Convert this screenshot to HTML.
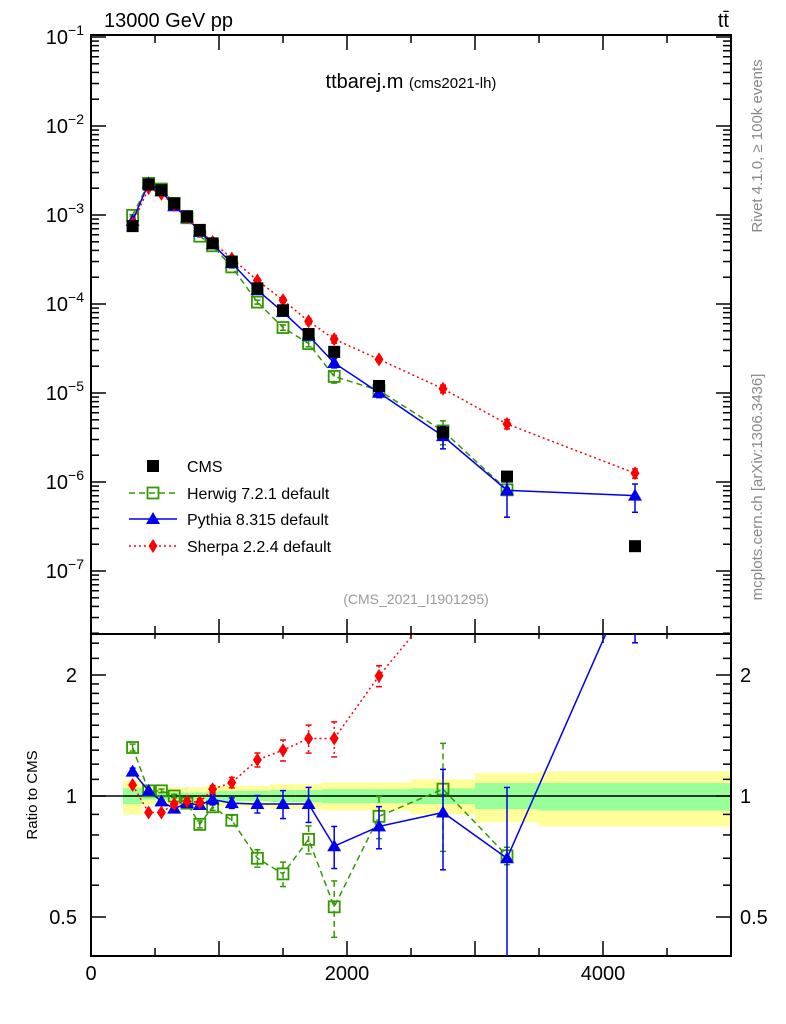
<!DOCTYPE html>
<html><head><meta charset="utf-8"><style>
html,body{margin:0;padding:0;background:#fff;overflow:hidden;width:786px;height:1024px;}
svg{display:block;font-family:"Liberation Sans",sans-serif;}
</style></head><body>
<svg id="c" width="786" height="1024" viewBox="0 0 786 1024" xmlns="http://www.w3.org/2000/svg"></svg>
<script>
const binEdges=[250,400,500,600,700,800,900,1000,1200,1400,1600,1800,2000,2500,3000,3500,5000];
const xCenters=[325,450,550,650,750,850,950,1100,1300,1500,1700,1900,2250,2750,3250,4250];
const cmsVals=[7.5e-4,2.2e-3,1.9e-3,1.35e-3,9.7e-4,6.8e-4,4.8e-4,3.0e-4,1.5e-4,8.5e-5,4.6e-5,2.9e-5,1.2e-5,3.6e-6,1.15e-6,1.9e-7];
const herwigRatio=[1.32,1.03,1.03,1.0,0.96,0.85,0.94,0.87,0.70,0.64,0.78,0.53,0.89,1.04,0.71];
const pythiaRatio=[1.15,1.03,0.97,0.93,0.96,0.95,0.98,0.96,0.955,0.955,0.955,0.75,0.84,0.91,0.70,3.7];
const sherpaRatio=[1.065,0.91,0.91,0.955,0.97,0.965,1.04,1.08,1.23,1.30,1.39,1.39,1.99,3.1,3.9,6.6];
const herwigErr=[0.02,0.01,0.01,0.01,0.01,0.02,0.02,0.03,0.05,0.07,0.08,0.16,0.12,0.30,0.05];
const pythiaErr=[0.02,0.01,0.01,0.01,0.01,0.02,0.03,0.03,0.05,0.08,0.10,0.12,0.12,0.28,0.5,0.35];
const sherpaErr=[0.01,0.01,0.01,0.01,0.01,0.02,0.02,0.03,0.04,0.06,0.08,0.10,0.06,0.1,0.12,0.12];
const yellowUp=[1.09,1.05,1.05,1.05,1.05,1.05,1.06,1.06,1.06,1.07,1.07,1.08,1.08,1.10,1.14,1.15];
const yellowDn=[0.90,0.95,0.95,0.95,0.95,0.95,0.94,0.94,0.94,0.93,0.93,0.92,0.92,0.90,0.86,0.84];
const greenUp=[1.045,1.02,1.02,1.02,1.02,1.02,1.025,1.03,1.03,1.035,1.035,1.04,1.04,1.045,1.077,1.077];
const greenDn=[0.955,0.98,0.98,0.98,0.98,0.98,0.975,0.97,0.97,0.965,0.965,0.96,0.96,0.955,0.928,0.92];
const legendLabels=["CMS","Herwig 7.2.1 default","Pythia 8.315 default","Sherpa 2.2.4 default"];

const L=91,R=731,T=35,M=634,B=956;
const X=v=>L+(v-0)*(R-L)/5000;
const Y=v=>215-(Math.log10(v)+3)*89;
const YR=v=>796-Math.log2(v)*121;
const svg=document.getElementById('c');
const NS="http://www.w3.org/2000/svg";
function mk(tag,attrs,parent){const e=document.createElementNS(NS,tag);for(const k in attrs)e.setAttribute(k,attrs[k]);(parent||svg).appendChild(e);return e;}
function txt(s,attrs,parent){const e=mk('text',attrs,parent);e.textContent=s;return e;}

const defs=mk('defs',{});
const c1=mk('clipPath',{id:'cm'},defs);mk('rect',{x:L,y:T,width:R-L,height:M-T},c1);
const c2=mk('clipPath',{id:'cr'},defs);mk('rect',{x:L,y:M,width:R-L,height:B-M},c2);

const bands=mk('g',{'clip-path':'url(#cr)'});


for(let i=0;i<xCenters.length;i++){
  const x0=X(binEdges[i]),x1=X(binEdges[i+1]);
  const r1=mk('rect',{x:x0,y:YR(yellowUp[i]),width:x1-x0,height:YR(yellowDn[i])-YR(yellowUp[i]),fill:'#ffff99'},bands);
  
  
  const r2=mk('rect',{x:x0,y:YR(greenUp[i]),width:x1-x0,height:YR(greenDn[i])-YR(greenUp[i]),fill:'#99ff99'},bands);
  
  
}
mk('line',{x1:L,x2:R,y1:YR(1),y2:YR(1),stroke:'#000','stroke-width':1.5},bands);

mk('rect',{x:L,y:T,width:R-L,height:M-T,fill:'none',stroke:'#000','stroke-width':2});
mk('rect',{x:L,y:M,width:R-L,height:B-M,fill:'none',stroke:'#000','stroke-width':2});

for(let v=0;v<=5000;v+=500){
  const x=X(v),maj=v%1000===0,len=maj?15:8;
  mk('line',{x1:x,x2:x,y1:T,y2:T+len,stroke:'#000','stroke-width':1.5});
  mk('line',{x1:x,x2:x,y1:M,y2:M-len,stroke:'#000','stroke-width':1.5});
  mk('line',{x1:x,x2:x,y1:M,y2:M+len*0.6,stroke:'#000','stroke-width':1.5});
  mk('line',{x1:x,x2:x,y1:B,y2:B-len,stroke:'#000','stroke-width':1.5});
}
[0,2000,4000].forEach(v=>{const t=txt(String(v),{x:X(v),y:980,'font-size':20,'text-anchor':'middle'});});

for(let e=-8;e<=-1;e++){
  for(let m=1;m<10;m++){
    const v=m*Math.pow(10,e);const y=Y(v);
    if(y<T-0.5||y>M)continue;
    const len=m===1?15:8;
    mk('line',{x1:L,x2:L+len,y1:y,y2:y,stroke:'#000','stroke-width':1.5});
    mk('line',{x1:R,x2:R-len,y1:y,y2:y,stroke:'#000','stroke-width':1.5});
  }
  const y=Y(Math.pow(10,e));
  if(y>=T-1&&y<=M){
    const t=mk('text',{x:84,y:y+7,'font-size':20,'text-anchor':'end'});
    
    t.textContent='10';const s=mk('tspan',{dy:-9,'font-size':14},t);s.textContent='\u2212'+(-e);
  }
}
[0.4,0.5,0.6,0.7,0.8,0.9,1,1.1,1.2,1.3,1.4,1.5,1.6,1.7,1.8,1.9,2,2.2,2.4].forEach(v=>{
  const y=YR(v);if(y<M||y>B)return;
  const len=(v===0.5||v===1||v===2)?15:8;
  mk('line',{x1:L,x2:L+len,y1:y,y2:y,stroke:'#000','stroke-width':1.5});
  mk('line',{x1:R,x2:R-len,y1:y,y2:y,stroke:'#000','stroke-width':1.5});
});
[[0.5,'0.5'],[1,'1'],[2,'2']].forEach(([v,s])=>{
  const y=YR(v)+7;
  const a=txt(s,{x:77,y:y,'font-size':20,'text-anchor':'end'});
  const b=txt(s,{x:740,y:y,'font-size':20});
});

function markerG(type,x,y,g){
  if(type==='sq')mk('rect',{x:x-6,y:y-6,width:12,height:12,fill:'#000'},g);
  if(type==='osq')mk('rect',{x:x-5.5,y:y-5.5,width:11,height:11,fill:'#fff','fill-opacity':0,stroke:'#339900','stroke-width':1.8},g);
  if(type==='tri')mk('polygon',{points:`${x},${y-7} ${x-7},${y+5} ${x+7},${y+5}`,fill:'#0000ee'},g);
  if(type==='dia')mk('polygon',{points:`${x},${y-7} ${x-4.5},${y} ${x},${y+7} ${x+4.5},${y}`,fill:'#ff0000'},g);
}
function series(name,ratio,err,color,dash,type,ratioPanel){
  const g=mk('g',{'clip-path':ratioPanel?'url(#cr)':'url(#cm)'});
  
  
  const fy=i=>ratioPanel?YR(ratio[i]):Y(ratio[i]*cmsVals[i]);
  let d='';
  for(let i=0;i<ratio.length;i++)d+=(i?'L':'M')+X(xCenters[i])+','+fy(i);
  mk('path',{d:d,fill:'none',stroke:color,'stroke-width':1.5,'stroke-dasharray':dash},g);
  for(let i=0;i<ratio.length;i++){
    const x=X(xCenters[i]);
    const lo=Math.max(0.01,1-err[i]);
    const y1=ratioPanel?YR(ratio[i]*(1+err[i])):Y(ratio[i]*cmsVals[i]*(1+err[i]));
    const y2=ratioPanel?YR(ratio[i]*lo):Y(ratio[i]*cmsVals[i]*lo);
    mk('line',{x1:x,x2:x,y1:y1,y2:y2,stroke:color,'stroke-width':1.5,'stroke-dasharray':dash},g);
    mk('line',{x1:x-3,x2:x+3,y1:y1,y2:y1,stroke:color,'stroke-width':1.5},g);
    mk('line',{x1:x-3,x2:x+3,y1:y2,y2:y2,stroke:color,'stroke-width':1.5},g);
    markerG(type,x,fy(i),g);
  }
}
series('herwig',herwigRatio,herwigErr,'#339900','6,4','osq',false);
series('pythia',pythiaRatio,pythiaErr,'#0000ee','','tri',false);
series('sherpa',sherpaRatio,sherpaErr,'#ff0000','2,3','dia',false);
const cg=mk('g',{'clip-path':'url(#cm)'});


for(let i=0;i<cmsVals.length;i++)markerG('sq',X(xCenters[i]),Y(cmsVals[i]),cg);
series('herwig',herwigRatio,herwigErr,'#339900','6,4','osq',true);
series('pythia',pythiaRatio,pythiaErr,'#0000ee','','tri',true);
series('sherpa',sherpaRatio,sherpaErr,'#ff0000','2,3','dia',true);

const lg=mk('g',{});


const ly=[466,493,519,546];
const lc=['#000','#339900','#0000ee','#ff0000'],ld=['','6,4','','2,3'],lt=['sq','osq','tri','dia'];
for(let i=0;i<4;i++){
  const e=mk('g',{},lg);
  
  
  if(i>0)mk('line',{x1:129,x2:177,y1:ly[i],y2:ly[i],stroke:lc[i],'stroke-width':1.5,'stroke-dasharray':ld[i]},e);
  markerG(lt[i],153,ly[i],e);
  txt(legendLabels[i],{x:187,y:ly[i]+6,'font-size':16},e);
}

const t1=txt('13000 GeV pp',{x:104,y:27,'font-size':20});
const t2=txt('tt\u0304',{x:729,y:27,'font-size':20,'text-anchor':'end'});
const t3=mk('text',{x:411,y:88,'font-size':20,'text-anchor':'middle'});
t3.textContent='ttbarej.m ';const ts=mk('tspan',{'font-size':15},t3);ts.textContent='(cms2021-lh)';
const t4=txt('(CMS_2021_I1901295)',{x:416,y:604,'font-size':14,fill:'#999','text-anchor':'middle'});
const t5=txt('Ratio to CMS',{x:0,y:0,'font-size':15,'text-anchor':'middle',transform:'translate(37,795) rotate(-90)'});
const t6=txt('Rivet 4.1.0, \u2265 100k events',{x:0,y:0,'font-size':15,fill:'#888','text-anchor':'middle',transform:'translate(762,146) rotate(-90)'});
const t7=txt('mcplots.cern.ch [arXiv:1306.3436]',{x:0,y:0,'font-size':15,fill:'#888','text-anchor':'middle',transform:'translate(762,487) rotate(-90)'});
</script>
</body></html>
